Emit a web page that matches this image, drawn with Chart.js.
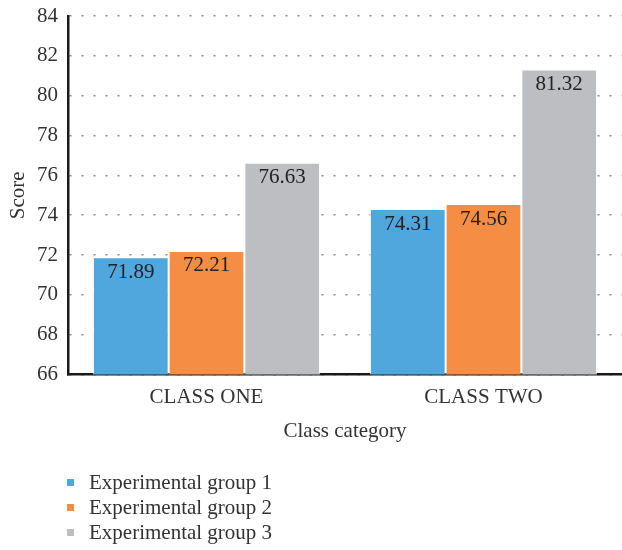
<!DOCTYPE html>
<html>
<head>
<meta charset="utf-8">
<script src="https://cdn.jsdelivr.net/npm/chart.js@4/dist/chart.umd.min.js"></script>
<style>
  html, body { margin: 0; padding: 0; background: #fff; }
  #wrap { position: relative; width: 622px; height: 550px; }
  #legend { position: absolute; left: 67px; top: 470px; font-family: 'Liberation Serif', serif; font-size: 21px; color: #333; }
  .li { position: relative; height: 25px; line-height: 25px; padding-left: 22px; white-space: nowrap; }
  .sw { position: absolute; left: 0; top: 9px; width: 7px; height: 7px; }
</style>
</head>
<body>
<div id="wrap">
  <canvas id="c" width="622" height="550"></canvas>
  <div id="legend"></div>
</div>
<script>
const categories = ['CLASS ONE', 'CLASS TWO'];
const seriesLabels = ['Experimental group 1', 'Experimental group 2', 'Experimental group 3'];
const group1 = [71.89, 74.31];
const group2 = [72.21, 74.56];
const group3 = [76.63, 81.32];
const seriesColors = ['#50A7DE', '#F58D45', '#BDBEC2'];
const yMin = 66, yMax = 84, yStep = 2;
const xTitle = 'Class category';
const yTitle = 'Score';

const FONT = "'Liberation Serif', serif";
const values = [group1, group2, group3];

const valueLabels = {
  id: 'valueLabels',
  afterDraw(chart) {
    const ctx = chart.ctx;
    ctx.save();
    ctx.font = '21px ' + FONT;
    ctx.fillStyle = '#222';
    ctx.textAlign = 'center';
    ctx.textBaseline = 'middle';
    chart.data.datasets.forEach((ds, i) => {
      const meta = chart.getDatasetMeta(i);
      meta.data.forEach((bar, j) => {
        ctx.fillText(ds.data[j].toFixed(2), bar.x, bar.y + 15);
      });
    });
    ctx.restore();
  }
};

new Chart(document.getElementById('c'), {
  type: 'bar',
  data: {
    labels: categories,
    datasets: values.map((v, i) => ({
      label: seriesLabels[i],
      data: v,
      backgroundColor: seriesColors[i],
      borderColor: 'rgba(255,255,255,0.7)',
      borderWidth: 1,
      categoryPercentage: 0.82,
      barPercentage: 1.0
    }))
  },
  options: {
    responsive: false,
    animation: false,
    layout: { padding: { left: 2, right: 0, top: 0, bottom: 102 } },
    plugins: { legend: { display: false }, tooltip: { enabled: false } },
    scales: {
      x: {
        grid: { display: false, drawTicks: false },
        border: { display: true, color: '#1a1a1a', width: 2.5 },
        ticks: { font: { family: FONT, size: 21 }, color: '#333', padding: 10 },
        title: { display: true, text: xTitle, font: { family: FONT, size: 21 }, color: '#333', padding: { top: -1, bottom: 4 } }
      },
      y: {
        z: 1,
        min: yMin, max: yMax,
        afterFit(s) { s.width = 66; s.paddingTop = 16; },
        ticks: { stepSize: yStep, font: { family: FONT, size: 21 }, color: '#333', padding: 10 },
        grid: { drawTicks: false, color: 'rgba(110,110,110,0.8)', lineWidth: 1.5 },
        border: { display: true, color: '#1a1a1a', width: 2.5, dash: [2, 10] },
        title: { display: true, text: yTitle, font: { family: FONT, size: 21, lineHeight: 1 }, color: '#333', padding: { top: 6, bottom: 2 } }
      }
    }
  },
  plugins: [valueLabels]
});

const legend = document.getElementById('legend');
seriesLabels.forEach((t, i) => {
  const d = document.createElement('div');
  d.className = 'li';
  const s = document.createElement('span');
  s.className = 'sw';
  s.style.background = seriesColors[i];
  d.appendChild(s);
  d.appendChild(document.createTextNode(t));
  legend.appendChild(d);
});
</script>
</body>
</html>
